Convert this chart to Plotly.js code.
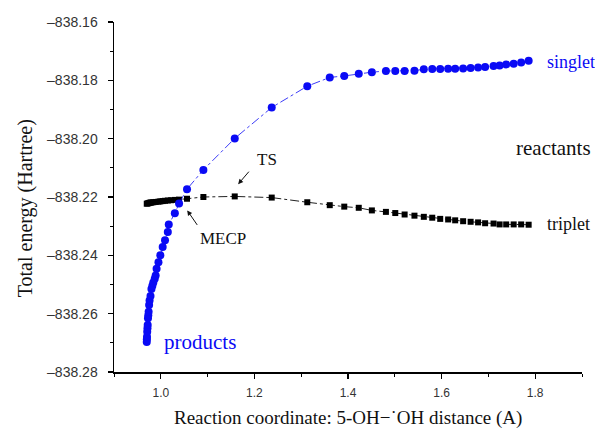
<!DOCTYPE html>
<html>
<head>
<meta charset="utf-8">
<script src="https://cdn.plot.ly/plotly-3.0.1.min.js"></script>
<style>html,body{margin:0;padding:0;background:#fff;}#chart{width:595px;height:430px;}</style>
</head>
<body>
<div id="chart"></div>
<script>
// Singlet surface (blue circles)
var singletX = [0.970, 0.9702, 0.9705, 0.971, 0.9715, 0.972, 0.9726, 0.9733, 0.974, 0.975,
  0.976, 0.978, 0.980, 0.982, 0.984, 0.987, 0.989, 0.991, 0.995, 0.999,
  1.004, 1.009, 1.015, 1.017, 1.030, 1.039, 1.056, 1.091, 1.158, 1.237,
  1.313, 1.361, 1.392, 1.423, 1.451, 1.481, 1.501, 1.521, 1.542, 1.562,
  1.580, 1.597, 1.614, 1.629, 1.646, 1.662, 1.678, 1.693, 1.711, 1.724,
  1.738, 1.754, 1.770, 1.786];
var singletY = [-838.2697, -838.2688, -838.2679, -838.2662, -838.2650, -838.2639, -838.2616, -838.2605, -838.2593, -838.2570,
  -838.2555, -838.2539, -838.2515, -838.2504, -838.2493, -838.2480, -838.2469, -838.2446, -838.2424, -838.2400,
  -838.2371, -838.2348, -838.2320, -838.2294, -838.2256, -838.2222, -838.2173, -838.2107, -838.1999, -838.1893,
  -838.1820, -838.1790, -838.1785, -838.1777, -838.1772, -838.1768, -838.1768, -838.1768, -838.1767, -838.1762,
  -838.1761, -838.1761, -838.1760, -838.1760, -838.1759, -838.1758, -838.1756, -838.1754, -838.1751, -838.1749,
  -838.1746, -838.1743, -838.1739, -838.1733];

// Triplet surface (black squares)
var tripletX = [0.970, 0.972, 0.974, 0.976, 0.978, 0.980, 0.984, 0.989, 0.995, 0.999,
  1.004, 1.009, 1.015, 1.022, 1.030, 1.039, 1.056, 1.091, 1.158, 1.237,
  1.313, 1.361, 1.392, 1.423, 1.451, 1.481, 1.501, 1.521, 1.542, 1.562,
  1.580, 1.597, 1.614, 1.629, 1.646, 1.662, 1.678, 1.693, 1.711, 1.724,
  1.738, 1.754, 1.770, 1.786];
var tripletY = [-838.2223, -838.2222, -838.2221, -838.2220, -838.2219, -838.2219, -838.2218, -838.2217, -838.2216, -838.2215,
  -838.2214, -838.2213, -838.2212, -838.2211, -838.2210, -838.2209, -838.2206, -838.2200, -838.2198, -838.2202,
  -838.2218, -838.2228, -838.2233, -838.2237, -838.2246, -838.2251, -838.2255, -838.2260, -838.2264, -838.2268,
  -838.2271, -838.2275, -838.2277, -838.2280, -838.2283, -838.2285, -838.2287, -838.2290, -838.2291, -838.2294,
  -838.2294, -838.2294, -838.2294, -838.2295];

var yTickVals = [-838.28, -838.26, -838.24, -838.22, -838.20, -838.18, -838.16];
var yTickText = ["\u2013838.28", "\u2013838.26", "\u2013838.24", "\u2013838.22", "\u2013838.20", "\u2013838.18", "\u2013838.16"];
var xTickVals = [1.0, 1.2, 1.4, 1.6, 1.8];
var xTickText = ["1.0", "1.2", "1.4", "1.6", "1.8"];

var serif = "Liberation Serif, Times New Roman, serif";
var sans = "Liberation Sans, Arial, sans-serif";
var BLUE = "#0a0af5";

var traces = [
  {x: tripletX, y: tripletY, mode: "lines+markers", type: "scatter",
   line: {color: "#222", width: 1, dash: "dashdot"},
   marker: {symbol: "square", size: 6, color: "#000"}},
  {x: singletX, y: singletY, mode: "lines+markers", type: "scatter",
   line: {color: BLUE, width: 0.8, dash: "dashdot"},
   marker: {symbol: "circle", size: 8, color: BLUE}}
];

var layout = {
  width: 595, height: 430,
  margin: {l: 114, r: 13, t: 22, b: 58},
  paper_bgcolor: "#fff", plot_bgcolor: "#fff",
  showlegend: false,
  xaxis: {range: [0.9, 1.9], tickvals: xTickVals, ticktext: xTickText,
    showgrid: false, zeroline: false, showline: true, linecolor: "#000", linewidth: 1.5,
    ticks: "outside", ticklen: 5, tickwidth: 1.2, tickcolor: "#000",
    ticklabelstandoff: 4,
    tickfont: {family: sans, size: 12, color: "#333"},
    minor: {dtick: 0.1, tick0: 0.9, ticks: "outside", ticklen: 3, tickwidth: 1, tickcolor: "#000"}},
  yaxis: {range: [-838.28, -838.16], tickvals: yTickVals, ticktext: yTickText,
    showgrid: false, zeroline: false, showline: true, linecolor: "#000", linewidth: 1.5,
    ticks: "outside", ticklen: 5, tickwidth: 1.2, tickcolor: "#000",
    ticklabelstandoff: 7,
    tickfont: {family: sans, size: 14, color: "#333"},
    minor: {dtick: 0.01, ticks: "outside", ticklen: 3, tickwidth: 1, tickcolor: "#000"}},
  annotations: [
    {xref: "paper", yref: "paper", x: -0.190, y: 0.468, textangle: -90, showarrow: false,
     text: "Total energy (Hartree)", font: {family: serif, size: 20, color: "#111"},
     xanchor: "center", yanchor: "middle"},
    {xref: "paper", yref: "paper", x: 0.5, y: -0.132, showarrow: false,
     text: "Reaction coordinate: 5-OH\u2212\u02D9OH distance (A)", font: {family: serif, size: 19, color: "#111"},
     xanchor: "center", yanchor: "middle"},
    {x: 1.820, y: -838.1738, showarrow: false, text: "singlet", xanchor: "left", yanchor: "middle",
     font: {family: serif, size: 18, color: BLUE}},
    {x: 1.8385, y: -838.2031, showarrow: false, text: "reactants", xanchor: "center", yanchor: "middle",
     font: {family: serif, size: 21, color: "#111"}},
    {x: 1.820, y: -838.2292, showarrow: false, text: "triplet", xanchor: "left", yanchor: "middle",
     font: {family: serif, size: 18, color: "#111"}},
    {x: 1.0836, y: -838.2697, showarrow: false, text: "products", xanchor: "center", yanchor: "middle",
     font: {family: serif, size: 21, color: BLUE}},
    {x: 1.2266, y: -838.2072, showarrow: false, text: "TS", xanchor: "center", yanchor: "middle",
     font: {family: serif, size: 17, color: "#111"}},
    {x: 1.1327, y: -838.2341, showarrow: false, text: "MECP", xanchor: "center", yanchor: "middle",
     font: {family: serif, size: 17, color: "#111"}},
    {x: 1.1653, y: -838.2156, ax: 12, ay: -14, axref: "pixel", ayref: "pixel", text: "", showarrow: true,
     arrowhead: 2, arrowsize: 1, arrowwidth: 1, arrowcolor: "#111"},
    {x: 1.0565, y: -838.2246, ax: 11, ay: 16, axref: "pixel", ayref: "pixel", text: "", showarrow: true,
     arrowhead: 2, arrowsize: 1, arrowwidth: 1, arrowcolor: "#111"}
  ]
};

Plotly.newPlot("chart", traces, layout, {displayModeBar: false, staticPlot: true});
</script>
</body>
</html>
